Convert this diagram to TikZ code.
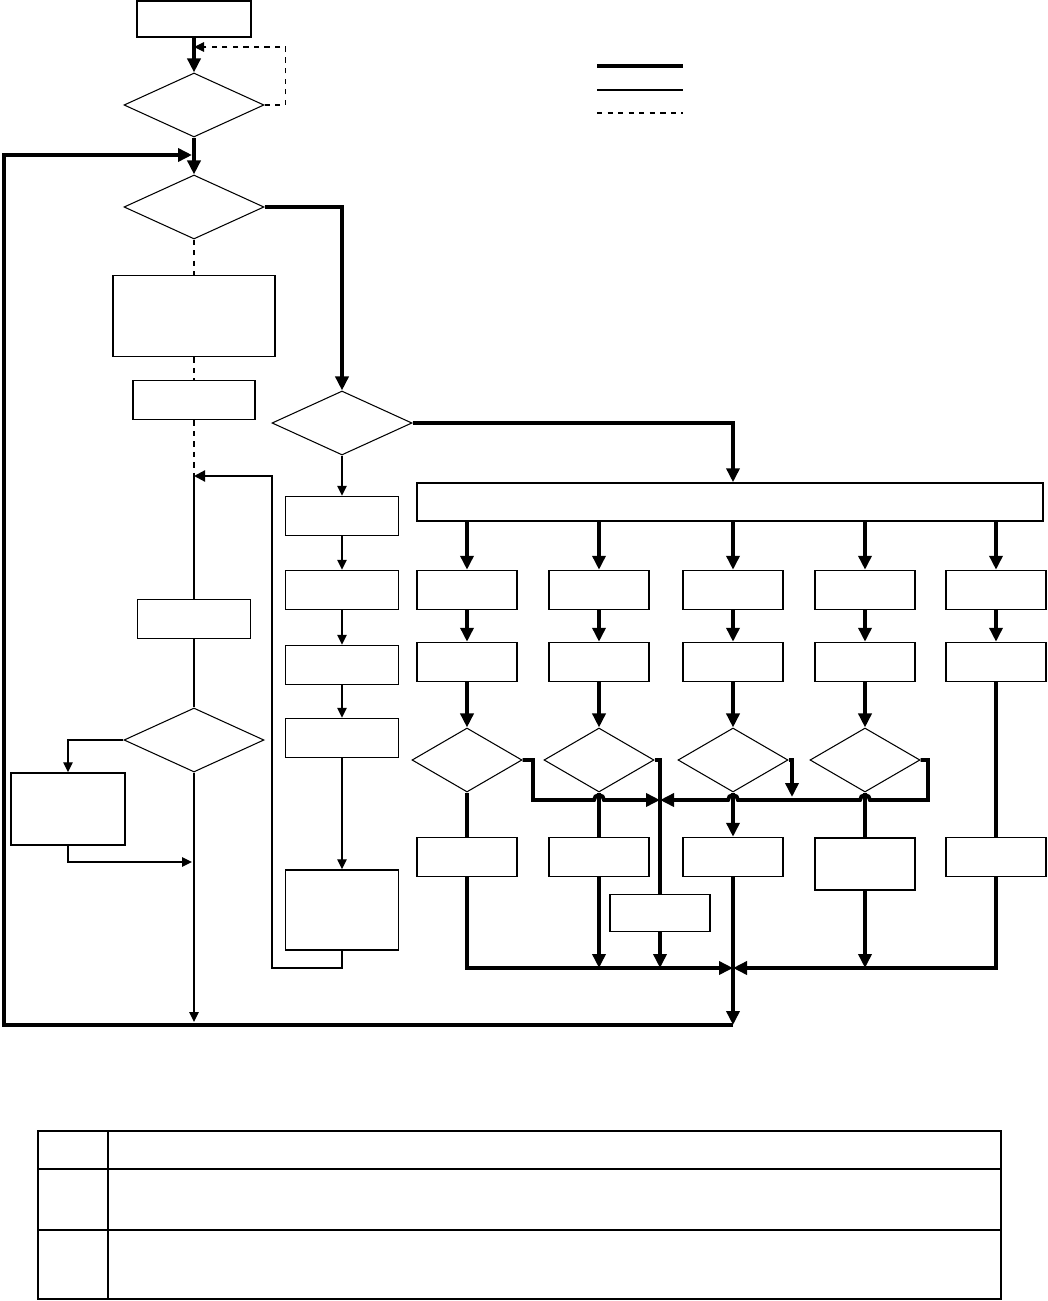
\documentclass[tikz,border=0pt]{standalone}
\usetikzlibrary{positioning, arrows.meta, shapes.geometric, calc}

\begin{document}
\begin{tikzpicture}[x=0.2mm, y=-0.2mm,
        box/.style={rectangle, draw, line width=0.85pt, inner sep=0pt,
                    minimum width=20mm, minimum height=7.8mm},
        cond/.style={diamond, draw, line width=0.6pt, inner sep=0pt,
                     minimum width=28mm, minimum height=12.8mm},
        subcond/.style={cond, minimum width=22mm},
        heavy/.style={line width=2.2pt},
        heavyarrow/.style={heavy, -{Triangle[length=2.8mm, width=2.6mm]}},
        mid/.style={line width=1.2pt},
        midarrow/.style={mid, -{Triangle[length=2.2mm, width=2.2mm]}},
        light/.style={line width=0.75pt},
        lightarrow/.style={light, -{Triangle[length=2mm, width=1.9mm]}},
        opt/.style={dashed, line width=0.6pt},
        optarrow/.style={opt, -{Triangle[length=2mm, width=1.9mm]}},
    ]
    \useasboundingbox (0,0) rectangle (1047,1301);

    % Left column
    \node[box, minimum width=22.8mm, minimum height=7.2mm] (start) at (194,19) {};
    \node[cond] (init)  at (194,105) {};
    \node[cond] (loop)  at (194,207) {};
    \node[box, minimum width=32.4mm, minimum height=16.2mm] (prep) at (194,316) {};
    \node[box, minimum width=24.4mm] (wait)  at (194,400) {};
    \node[box, minimum width=22.6mm] (idle)  at (194,619) {};
    \node[cond] (check) at (194,740) {};
    \node[box, minimum width=22.8mm, minimum height=14.4mm] (fault) at (68,809) {};

    % Middle column
    \node[cond] (mode) at (342,423) {};
    \node[box, minimum width=22.6mm] (seq1) at (342,516) {};
    \node[box, minimum width=22.6mm] (seq2) at (342,590) {};
    \node[box, minimum width=22.6mm] (seq3) at (342,665) {};
    \node[box, minimum width=22.6mm] (seq4) at (342,738) {};
    \node[box, minimum width=22.6mm, minimum height=16mm] (seq5) at (342,910) {};

    % Right block
    \node[box, minimum width=125.2mm, minimum height=7.6mm] (dispatch) at (730,502) {};
    \node[box] (load1) at (467,590) {};
    \node[box] (load2) at (599,590) {};
    \node[box] (load3) at (733,590) {};
    \node[box] (load4) at (865,590) {};
    \node[box] (load5) at (996,590) {};
    \node[box] (run1) at (467,662) {};
    \node[box] (run2) at (599,662) {};
    \node[box] (run3) at (733,662) {};
    \node[box] (run4) at (865,662) {};
    \node[box] (run5) at (996,662) {};
    \node[subcond] (ok1) at (467,760) {};
    \node[subcond] (ok2) at (599,760) {};
    \node[subcond] (ok3) at (733,760) {};
    \node[subcond] (ok4) at (865,760) {};
    \node[box] (done1) at (467,857) {};
    \node[box] (done2) at (599,857) {};
    \node[box] (done3) at (733,857) {};
    \node[box, minimum height=10.4mm] (done4) at (865,864) {};
    \node[box] (done5) at (996,857) {};
    \node[box, minimum height=7.4mm] (retry) at (660,913) {};

    \coordinate (retn)   at (194,47);
    \coordinate (back)   at (192,155);
    \coordinate (resume) at (194,476);
    \coordinate (rejoin) at (192,862);
    \coordinate (bottom) at (194,1022);
    \coordinate (hub)    at (660,800);
    \coordinate (drop)   at (792,797);
    \coordinate (sink)   at (733,968);
    \coordinate (exit)   at (733,1025);

    % Main spine
    \draw[heavyarrow] (start) -- (init);
    \draw[optarrow] (init.east) -- ++(21,0) |- (retn);
    \draw[heavyarrow] (init) -- (loop);
    \draw[heavyarrow] (loop.east) -| (mode.north);
    \draw[opt] (loop) -- (prep);
    \draw[opt] (prep) -- (wait);
    \draw[opt] (wait) -- (resume);
    \draw[mid] (idle) -- (resume);
    \draw[light] (idle) -- (check);
    \draw[lightarrow] (check.west) -| (fault.north);
    \draw[lightarrow] (fault.south) |- (rejoin);
    \draw[lightarrow] (check.south) -- (bottom);

    % Sequence
    \draw[lightarrow] (mode) -- (seq1);
    \draw[lightarrow] (seq1) -- (seq2);
    \draw[lightarrow] (seq2) -- (seq3);
    \draw[lightarrow] (seq3) -- (seq4);
    \draw[lightarrow] (seq4) -- (seq5);
    \draw[midarrow] (seq5.south) |- (272,968) |- (resume);

    % Parallel branches
    \draw[heavyarrow] (mode.east) -| (dispatch.north -| load3);
    \draw[heavyarrow] (dispatch.south -| load1) -- (load1);
    \draw[heavyarrow] (dispatch.south -| load2) -- (load2);
    \draw[heavyarrow] (dispatch.south -| load3) -- (load3);
    \draw[heavyarrow] (dispatch.south -| load4) -- (load4);
    \draw[heavyarrow] (dispatch.south -| load5) -- (load5);
    \draw[heavyarrow] (load1) -- (run1);
    \draw[heavyarrow] (load2) -- (run2);
    \draw[heavyarrow] (load3) -- (run3);
    \draw[heavyarrow] (load4) -- (run4);
    \draw[heavyarrow] (load5) -- (run5);
    \draw[heavyarrow] (run1) -- (ok1);
    \draw[heavyarrow] (run2) -- (ok2);
    \draw[heavyarrow] (run3) -- (ok3);
    \draw[heavyarrow] (run4) -- (ok4);
    \draw[heavy] (run5) -- (done5);
    \draw[heavy] (ok1) -- (done1);
    \draw[heavy] (ok2) -- (done2);
    \draw[heavyarrow] (ok3) -- (done3);
    \draw[heavy] (ok4) -- (done4);

    % Cross-over to the hub
    \draw[heavyarrow] (ok1.east) -| (533,800) -- (594,800)
        arc[start angle=180, end angle=0, radius=1mm] -- (hub);
    \draw[heavy] (ok2.east) -| (retry.north);
    \draw[heavyarrow] (ok3.east) -| (drop);
    \draw[heavyarrow] (ok4.east) -| (928,800) -- (870,800)
        arc[start angle=0, end angle=180, radius=1mm] -- (738,800)
        arc[start angle=0, end angle=180, radius=1mm] -- (hub);

    % Merge and return
    \draw[heavyarrow] (done1.south) |- (sink);
    \draw[heavyarrow] (done5.south) |- (sink);
    \draw[heavyarrow] (done2.south) -- (done2 |- sink);
    \draw[heavyarrow] (retry.south) -- (retry |- sink);
    \draw[heavyarrow] (done4.south) -- (done4 |- sink);
    \draw[heavyarrow] (done3.south) -- (exit);
    \draw[heavyarrow] (exit) -- (4,1025) |- (back);

    % Legend
    \draw[heavy] (597,66) -- (683,66);
    \draw[light] (597,90) -- (683,90);
    \draw[opt] (597,113) -- (683,113);

    % Table
    \draw[line width=1.3pt] (38,1131) rectangle (1001,1299);
    \draw[line width=0.85pt] (108,1131) -- (108,1299)
        (38,1169) -- (1001,1169) (38,1230) -- (1001,1230);
\end{tikzpicture}
\end{document}
